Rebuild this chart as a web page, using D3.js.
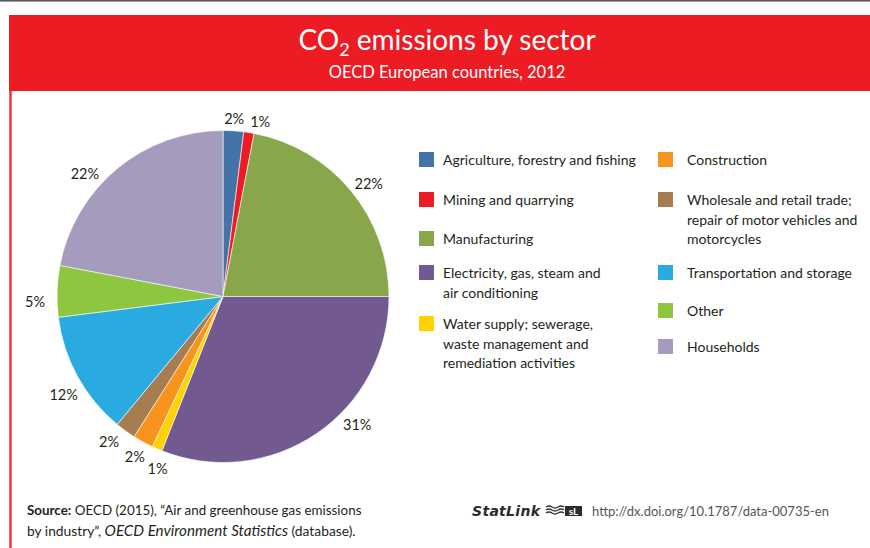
<!DOCTYPE html>
<html>
<head>
<meta charset="utf-8">
<script src="https://cdn.jsdelivr.net/npm/d3@7"></script>
<style>
  html, body { margin: 0; padding: 0; background: #fff; }
  svg { display: block; font-family: Lato, "Open Sans", sans-serif; }
</style>
</head>
<body>
<svg id="chart" width="870" height="548"></svg>
<script>
// Sectors in clockwise order from 12 o'clock
const sectors = [
  "Agriculture, forestry and fishing",
  "Mining and quarrying",
  "Manufacturing",
  "Electricity, gas, steam and air conditioning",
  "Water supply; sewerage, waste management and remediation activities",
  "Construction",
  "Wholesale and retail trade; repair of motor vehicles and motorcycles",
  "Transportation and storage",
  "Other",
  "Households"
];
// Share of CO2 emissions, percent
const shares = [2, 1, 22, 31, 1, 2, 2, 12, 5, 22];
const sectorColors = ["#4473a8", "#ed1c24", "#88a74b", "#72598f", "#ffd200",
                      "#f7941d", "#a67c52", "#29abe2", "#8dc63f", "#a59bbd"];

// Legend text, wrapped as printed; two columns
const legendCol1 = [
  ["Agriculture, forestry and fishing"],
  ["Mining and quarrying"],
  ["Manufacturing"],
  ["Electricity, gas, steam and", "air conditioning"],
  ["Water supply; sewerage,", "waste management and", "remediation activities"]
];
const legendCol2 = [
  ["Construction"],
  ["Wholesale and retail trade;", "repair of motor vehicles and", "motorcycles"],
  ["Transportation and storage"],
  ["Other"],
  ["Households"]
];

const svg = d3.select("#chart");
const W = 870, H = 548;
const red = "#ed1c24";
const ink = "#231f20";

// Frame: thin grey rule at the top, red banner, red left rule
svg.append("rect").attr("x", 0).attr("y", 0).attr("width", W).attr("height", 1.6).attr("fill", "#5a5a5a");
svg.append("rect").attr("x", 9).attr("y", 15).attr("width", W - 9).attr("height", 76).attr("fill", red);
svg.append("rect").attr("x", 9.3).attr("y", 91).attr("width", 2.4).attr("height", H - 91).attr("fill", "#ef2b33");

const title = svg.append("text")
  .attr("x", 447).attr("y", 50)
  .attr("text-anchor", "middle")
  .attr("fill", "#fff")
  .attr("font-size", 28);
title.append("tspan").text("CO");
title.append("tspan").attr("font-size", 18).attr("dy", 6).text("2");
title.append("tspan").attr("dy", -6).text(" emissions by sector");

svg.append("text")
  .attr("x", 447).attr("y", 78)
  .attr("text-anchor", "middle")
  .attr("fill", "#fff")
  .attr("font-size", 16.5)
  .text("OECD European countries, 2012");

// Pie
const cx = 223, cy = 296.5, R = 166;
const pie = d3.pie().sort(null).value(d => d.v);
const arcs = pie(shares.map((v, i) => ({ v, i })));
const arc = d3.arc().innerRadius(0).outerRadius(R);

const g = svg.append("g").attr("transform", `translate(${cx},${cy})`);
g.selectAll("path.slice")
  .data(arcs)
  .join("path")
  .attr("class", "slice")
  .attr("d", arc)
  .attr("fill", d => sectorColors[d.data.i])
  .attr("stroke", "#fff")
  .attr("stroke-width", 0.6);

// Percentage labels outside the rim: [turn in degrees, radial shift in px] per slice
const labelNudge = {
  0: [0, -7], 1: [3, -6], 2: [2, -1], 3: [-12, 1], 4: [-2.6, -0.5],
  5: [0, -2], 6: [2, 0], 7: [-3, 2.5], 8: [-3.5, 3], 9: [-8.7, 0]
};
const labelR = 185;
g.selectAll("text.pct")
  .data(arcs)
  .join("text")
  .attr("class", "pct")
  .each(function (d) {
    const [turn, dr] = labelNudge[d.data.i] || [0, 0];
    const a = (d.startAngle + d.endAngle) / 2 + turn * Math.PI / 180;
    const r = labelR + dr;
    d3.select(this)
      .attr("x", r * Math.sin(a))
      .attr("y", -r * Math.cos(a));
  })
  .attr("text-anchor", "middle")
  .attr("dy", "0.35em")
  .attr("font-size", 14.5)
  .attr("fill", ink)
  .text(d => d.data.v + "%");

// Legend
function drawLegend(rows, offset, x, gap, ys) {
  const lg = svg.append("g");
  rows.forEach((lines, k) => {
    const idx = offset + k;
    const y = ys[k];
    lg.append("rect")
      .attr("x", x).attr("y", y - 8)
      .attr("width", 15).attr("height", 15)
      .attr("fill", sectorColors[idx]);
    const t = lg.append("text")
      .attr("x", x + gap).attr("y", y + 5)
      .attr("font-size", 14)
      .attr("fill", ink);
    lines.forEach((ln, j) => {
      t.append("tspan").attr("x", x + gap).attr("dy", j === 0 ? 0 : 19.5).text(ln);
    });
  });
}
drawLegend(legendCol1, 0, 419, 24, [160, 200, 239, 273, 324]);
drawLegend(legendCol2, 5, 658, 29, [160, 200, 273, 311, 347]);

// Source note
const src = svg.append("text").attr("x", 27).attr("y", 515).attr("font-size", 13.4).attr("fill", ink);
src.append("tspan").attr("font-weight", 700).text("Source:");
src.append("tspan").text(" OECD (2015), \u201CAir and greenhouse gas emissions");
const src2 = svg.append("text").attr("x", 27).attr("y", 536).attr("font-size", 13.8).attr("fill", ink);
src2.append("tspan").text("by industry\u201D, ");
src2.append("tspan").attr("font-style", "italic").attr("font-size", 15.2).text("OECD Environment Statistics");
src2.append("tspan").text(" (database).");

// StatLink badge and address
svg.append("text")
  .attr("x", 472).attr("y", 516)
  .attr("font-size", 14).attr("font-weight", 700).attr("font-style", "italic")
  .attr("fill", "#2b2b2b")
  .attr("font-family", "'DejaVu Sans', sans-serif")
  .attr("textLength", 68)
  .text("StatLink");
const logo = svg.append("g").attr("transform", "translate(546,505)");
[0, 3, 6].forEach(dy => {
  logo.append("path")
    .attr("d", `M0,${dy + 2} q3,-2 6,0 t6,0 t6,0`)
    .attr("fill", "none").attr("stroke", "#333").attr("stroke-width", 1.3);
});
logo.append("rect").attr("x", 19).attr("y", 1).attr("width", 17).attr("height", 10).attr("fill", "#2b2b2b");
logo.append("text").attr("x", 27.5).attr("y", 10).attr("text-anchor", "middle")
  .attr("font-size", 10).attr("font-weight", 700).attr("fill", "#fff").text("sL");
svg.append("text")
  .attr("x", 592).attr("y", 516)
  .attr("font-size", 13)
  .attr("fill", "#555")
  .text("http://dx.doi.org/10.1787/data-00735-en");
</script>
</body>
</html>
